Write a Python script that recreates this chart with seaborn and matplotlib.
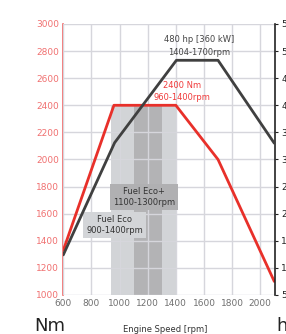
import matplotlib
matplotlib.use("Agg")
import matplotlib.pyplot as plt
import seaborn as sns

# engine curves
rpm_torque = [600, 960, 1400, 1700, 2100]
torque_nm = [1330, 2400, 2400, 2000, 1100]
rpm_power = [600, 965, 1404, 1700, 2100]
power_hp = [124, 331, 483, 483, 330]

# fuel economy bands (rpm)
eco_band = [940, 1400]
eco_plus_band = [1100, 1300]
band_top = 2400

x_ticks = [600, 800, 1000, 1200, 1400, 1600, 1800, 2000]
nm_ticks = [1000, 1200, 1400, 1600, 1800, 2000, 2200, 2400, 2600, 2800, 3000]
hp_ticks = [50, 100, 150, 200, 250, 300, 350, 400, 450, 500, 550]

RED = "#e8302a"
DARK = "#404040"
LIGHT_BAND = "#d2d4d7"
DARK_BAND = "#b3b3b5"

sns.set_theme(style="whitegrid")
plt.rcParams['font.family'] = ['DejaVu Sans']

fig = plt.figure(figsize=(2.86, 3.34), dpi=100)
ax = fig.add_axes([0.2213, 0.1168, 0.7402, 0.8114])

ax.fill_between(eco_band, 1000, band_top, color=LIGHT_BAND, lw=0, zorder=0.5)
ax.fill_between(eco_plus_band, 1000, band_top, color=DARK_BAND, lw=0, zorder=0.6)

sns.lineplot(x=rpm_torque, y=torque_nm, ax=ax, color=RED, lw=2, zorder=3)

ax.set_xlim(600, 2105)
ax.set_ylim(1000, 3000)
ax.set_xticks(x_ticks)
ax.set_yticks(nm_ticks)
ax.grid(True, color="#d6d6dc", lw=1)
ax.set_axisbelow(False)
for gl in ax.get_xgridlines() + ax.get_ygridlines():
    gl.set_zorder(1)
for s in ["top", "right", "bottom"]:
    ax.spines[s].set_visible(False)
ax.spines["left"].set_color("#f06a6a")
ax.spines["left"].set_linewidth(1.2)
ax.tick_params(axis="y", colors="#f07070", labelsize=6.5, length=0, pad=3)
ax.tick_params(axis="x", colors="#707070", labelsize=6.5, length=0, pad=3)
for lab in ax.get_yticklabels():
    lab.set_color("#f07070")
for lab in ax.get_xticklabels():
    lab.set_color("#707070")

ax2 = ax.twinx()
sns.lineplot(x=rpm_power, y=power_hp, ax=ax2, color=DARK, lw=2, zorder=3)
ax2.set_ylim(50, 550)
ax2.set_yticks(hp_ticks)
ax2.grid(False)
for s in ["top", "left", "bottom"]:
    ax2.spines[s].set_visible(False)
ax2.spines["right"].set_color("#222222")
ax2.spines["right"].set_linewidth(1.2)
ax2.tick_params(axis="y", colors="#222222", labelsize=6.5, length=2.5, width=0.8,
                direction="out", pad=2)
ax2.set_ylabel("")

ax.text(1565, 2838, "480 hp [360 kW]\n1404-1700rpm", color="#444444", fontsize=6,
        ha="center", va="center", linespacing=1.5, zorder=5)
ax.text(1443, 2500, "2400 Nm\n960-1400rpm", color="#f03a3a", fontsize=6,
        ha="center", va="center", linespacing=1.5, zorder=5)
ax.text(1173, 1723, "Fuel Eco+\n1100-1300rpm", color="#333333", fontsize=6,
        ha="center", va="center", linespacing=1.4, zorder=5,
        bbox=dict(boxstyle="square,pad=0.35", fc="#b0b0b2", ec="none"))
ax.text(965, 1517, "Fuel Eco\n900-1400rpm", color="#333333", fontsize=6,
        ha="center", va="center", linespacing=1.4, zorder=5,
        bbox=dict(boxstyle="square,pad=0.35", fc="#d3d5d8", ec="none"))

fig.text(50 / 286, 1 - 317 / 334, "Nm", fontsize=13, color="#222222", ha="center", va="top")
fig.text(165 / 286, 1 - 325 / 334, "Engine Speed [rpm]", fontsize=6, color="#333333",
         ha="center", va="top")
fig.text(276 / 286, 1 - 317 / 334, "hp", fontsize=13, color="#222222", ha="left", va="top")

fig.savefig("out.png", dpi=100)
